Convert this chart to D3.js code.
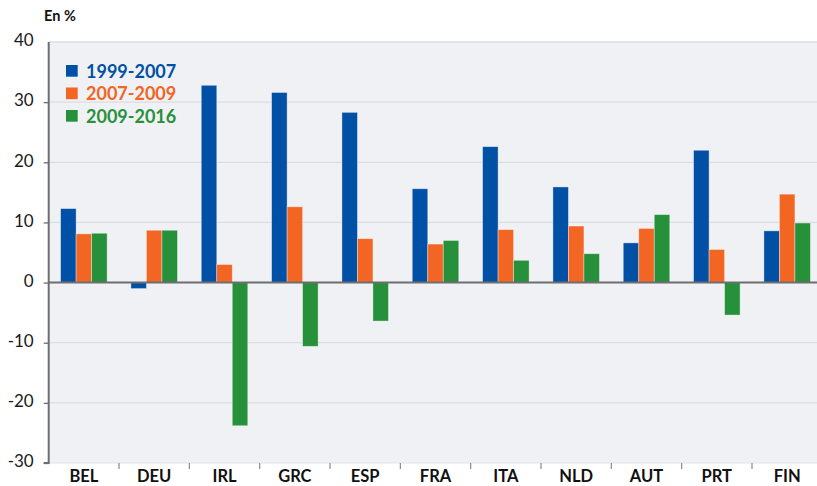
<!DOCTYPE html>
<html><head><meta charset="utf-8">
<script src="https://cdn.jsdelivr.net/npm/d3@7"></script>
<style>body{margin:0;background:#fff;}svg{display:block;font-family:Lato,"Open Sans",sans-serif;}</style>
</head><body>
<svg id="c" width="817" height="486"></svg>
<script>
const categories = ["BEL","DEU","IRL","GRC","ESP","FRA","ITA","NLD","AUT","PRT","FIN"];
const seriesNames = ["1999-2007","2007-2009","2009-2016"];
const s1999_2007 = [12.3,-1.0,32.8,31.6,28.3,15.6,22.6,15.9,6.6,22.0,8.6];
const s2007_2009 = [8.1,8.7,3.0,12.6,7.3,6.4,8.8,9.4,9.0,5.5,14.7];
const s2009_2016 = [8.2,8.7,-23.8,-10.6,-6.4,7.0,3.7,4.8,11.3,-5.4,9.9];
const yTicks = [-30,-20,-10,0,10,20,30,40];
const colors = ["#0051a5","#f26522","#27903a"];
const series = [s1999_2007,s2007_2009,s2009_2016];

(function(){
const svg = d3.select("#c");
const mLeft = 48.7, mTop = 42, mBottom = 463;
const bandW = 70.33;
const x = d3.scaleBand().domain(categories).range([mLeft, mLeft + bandW*categories.length]).paddingInner(0).paddingOuter(0);
const y = d3.scaleLinear().domain([-30,40]).range([mBottom, mTop]);
const bw = 15.5;
const xs = d3.scaleBand().domain(seriesNames).range([-bw*1.5, bw*1.5]);

// background
svg.append("rect").attr("x",mLeft).attr("y",mTop).attr("width",817-mLeft).attr("height",mBottom-mTop).attr("fill","#f0f1f4");

// gridlines
svg.append("g").selectAll("line").data(yTicks.filter(t=>t!==0 && t!==-30)).join("line")
  .attr("x1",mLeft).attr("x2",817).attr("y1",d=>y(d)).attr("y2",d=>y(d))
  .attr("stroke","#dcdde0").attr("stroke-width",1.3);
svg.append("line").attr("x1",mLeft).attr("x2",817).attr("y1",mBottom).attr("y2",mBottom).attr("stroke","#e2e3e6").attr("stroke-width",1.2);

// bars
categories.forEach((c,i)=>{
  const cx = x(c) + x.bandwidth()/2;
  series.forEach((s,j)=>{
    const v = s[i];
    svg.append("rect")
      .attr("x", cx + xs(seriesNames[j]))
      .attr("width", xs.bandwidth())
      .attr("y", y(Math.max(0,v)))
      .attr("height", Math.abs(y(v)-y(0)))
      .attr("fill", colors[j])
      .attr("stroke","rgba(255,255,255,0.45)").attr("stroke-width",0.8);
  });
});

// zero line
svg.append("line").attr("x1",mLeft).attr("x2",817).attr("y1",y(0)).attr("y2",y(0)).attr("stroke","#6e6e70").attr("stroke-width",2);

// y axis
const yAxis = d3.axisLeft(y).tickValues(yTicks).tickSize(5).tickPadding(10).tickFormat(d=>String(d));
const ga = svg.append("g").attr("transform",`translate(${mLeft},0)`).call(yAxis);
ga.select(".domain").attr("stroke","#6e6e70").attr("stroke-width",2).attr("d",`M0,${mTop}V${mBottom}H-5`);
ga.selectAll(".tick line").attr("stroke","#6e6e70").attr("stroke-width",1.3).attr("opacity",d=>d===40?0:1);
ga.selectAll(".tick text").attr("font-size",17).attr("fill","#1a1a1a").attr("font-family","Lato,sans-serif").attr("x",-15).attr("dy","0.22em");

// x axis separators & labels
const gx = svg.append("g");
categories.slice(1).forEach(c=>{
  gx.append("line").attr("x1",x(c)).attr("x2",x(c)).attr("y1",mBottom).attr("y2",mBottom+6).attr("stroke","#8a8a8c").attr("stroke-width",1.2);
});
gx.selectAll("text").data(categories).join("text")
  .attr("x",d=>x(d)+x.bandwidth()/2).attr("y",482)
  .attr("text-anchor","middle").attr("font-weight","bold").attr("font-size",16.5).attr("fill","#111")
  .text(d=>d);

// unit label
svg.append("text").attr("x",44).attr("y",21).attr("font-weight","bold").attr("font-size",14.5).attr("fill","#111").text("En %");

// legend
const lg = svg.append("g");
seriesNames.forEach((n,j)=>{
  const yy = 71 + j*22.5;
  lg.append("rect").attr("x",66).attr("y",yy-6).attr("width",11.7).attr("height",11.7).attr("fill",colors[j]);
  lg.append("text").attr("x",86).attr("y",yy+6.5).attr("font-weight","bold").attr("font-size",18).attr("fill",colors[j]).text(n);
});
})();
</script>
</body></html>
